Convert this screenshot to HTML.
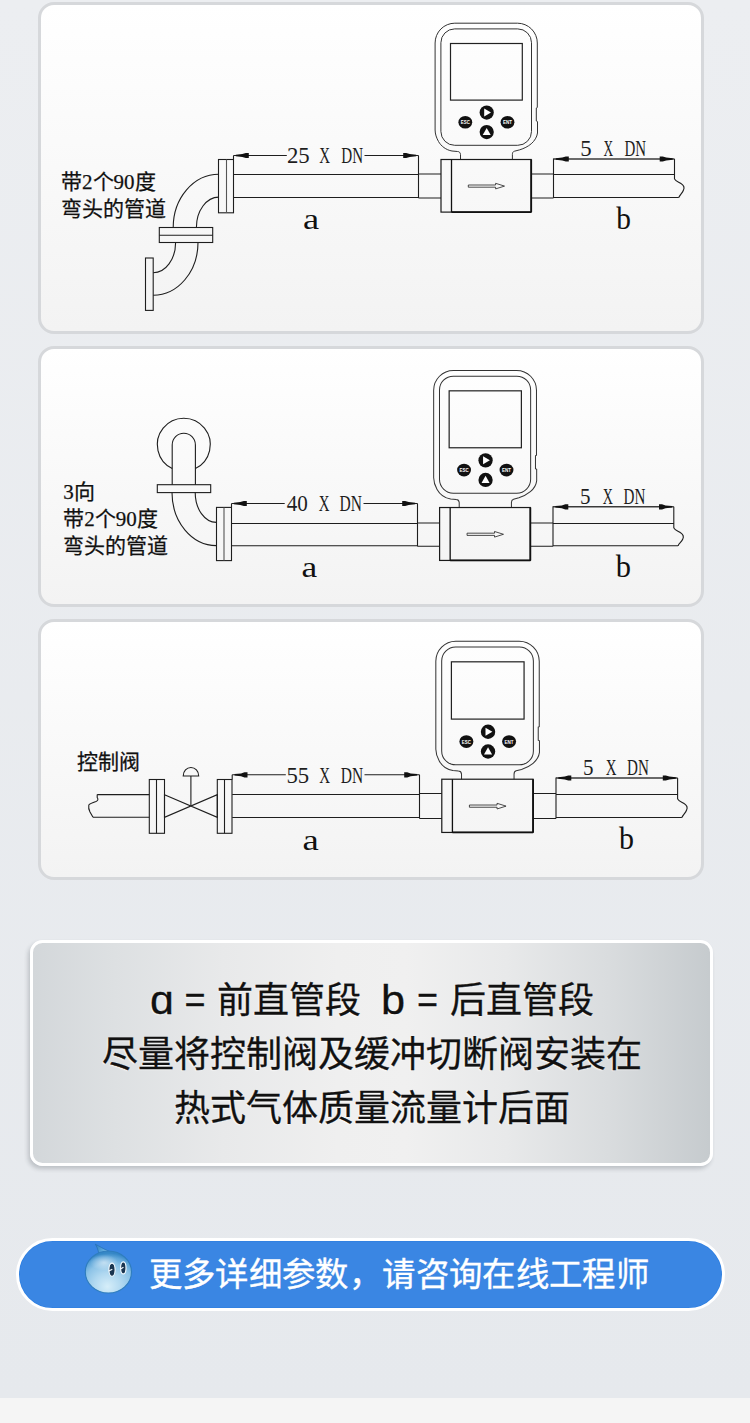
<!DOCTYPE html>
<html lang="zh-CN">
<head>
<meta charset="utf-8">
<style>
*{margin:0;padding:0;box-sizing:border-box;}
html,body{width:750px;height:1423px;overflow:hidden;}
body{position:relative;background:linear-gradient(#eceef1,#e6e9ed 1398px);font-family:"Liberation Sans",sans-serif;}
.card{position:absolute;left:38px;width:666px;border:3px solid #d6d8db;border-radius:16px;background:linear-gradient(#ffffff,#f3f3f3);}
#c1{top:2px;height:332px;}
#c2{top:346px;height:261px;}
#c3{top:619px;height:261px;}
.info{position:absolute;left:30px;top:940px;width:683px;height:226px;border:3px solid #fff;border-radius:12.5px;
 background:linear-gradient(90deg,#d3d7da 0%,#dde0e2 12%,#e8e9ea 28%,#efefef 45%,#f0f0f0 55%,#e8e9ea 70%,#d9dcde 85%,#c6cbce 100%);
 box-shadow:-2px 3px 4px rgba(40,50,60,0.22);}
.info p{position:absolute;left:0;width:100%;text-align:center;font-size:36px;color:#111;-webkit-text-stroke:0.3px #111;line-height:40px;white-space:nowrap;
 text-shadow:-1px 1px 1.5px rgba(255,255,255,0.75);}
.pc{position:absolute;line-height:40px;white-space:nowrap;color:#111;-webkit-text-stroke:0.3px #111;text-shadow:-1px 1px 1.5px rgba(255,255,255,0.75);}
.btn{position:absolute;left:15.5px;top:1238px;width:709.5px;height:73px;border:3px solid #fff;border-radius:37px;background:#3a86e3;box-shadow:inset 0 0 0 0.6px #2a7de0;}
.btn span{position:absolute;left:130.2px;top:14.3px;font-size:33.4px;letter-spacing:0.36px;color:#fff;-webkit-text-stroke:0.35px #fff;white-space:nowrap;line-height:40px;}
.foot{position:absolute;left:0;top:1398px;width:750px;height:25px;background:#f5f5f5;}
svg{position:absolute;left:0;top:0;}
.lbl{font-family:"Liberation Serif",serif;font-size:21px;fill:#111;stroke:#111;stroke-width:0.25px;}
.ab{font-family:"Liberation Serif",serif;font-size:30px;fill:#111;}
.dn{font-family:"Liberation Serif",serif;font-size:23px;fill:#1e1e1e;}
</style>
</head>
<body>
<div class="card" id="c1"></div>
<div class="card" id="c2"></div>
<div class="card" id="c3"></div>
<svg width="750" height="900" viewBox="0 0 750 900">
<defs>
 <g id="meter" fill="none" stroke="#333" stroke-width="1.0">
  <path d="M460.5 159.5 V154.5 C460.3 152.5 459.2 151.5 457.5 151.5 L452 151 C446 150 441 146 438.5 141.5 C436.5 138 435.1 134 435.1 130 V43 A19.7 19.8 0 0 1 454.8 23.2 H517.5 A19.8 19.8 0 0 1 537.3 43 V107.5 L536.3 108 V121 L537.5 121.6 V133 C537 137 534.5 141 531.2 143.8 C528 146.5 524 148.5 519.8 149.8 L514.5 151.2 C513 151.6 512.4 152.6 512.4 154.5 V159.5"/>
  <rect x="440.9" y="28.9" width="90.6" height="116.4" rx="13.8"/>
  <rect x="450.5" y="43.5" width="71.8" height="56.6" stroke="#222" stroke-width="1.2"/>
  <rect x="441" y="159.5" width="90.2" height="52.6" stroke="#1a1a1a" stroke-width="1.2"/>
  <line x1="451.5" y1="159.5" x2="451.5" y2="212.1" stroke="#111" stroke-width="1.3"/>
  <line x1="451.5" y1="212.1" x2="531.2" y2="212.1" stroke="#111" stroke-width="1.8"/>
  <line x1="531.2" y1="159.5" x2="531.2" y2="212.1" stroke="#111" stroke-width="1.8"/>
  <circle cx="486.7" cy="112.6" r="7.1" fill="#111" stroke="none"/>
  <path d="M484.2 108.6 L491 112.6 L484.2 116.6Z" fill="#fff" stroke="none"/>
  <circle cx="486.7" cy="132.1" r="7.1" fill="#111" stroke="none"/>
  <path d="M486.7 128 L490.7 135 L482.7 135Z" fill="#fff" stroke="none"/>
  <ellipse cx="465.3" cy="122.3" rx="6.9" ry="6.3" fill="#111" stroke="none"/>
  <ellipse cx="507.5" cy="122.3" rx="6.9" ry="6.3" fill="#111" stroke="none"/>
  <text x="465.3" y="124.4" font-size="6" fill="#fff" stroke="none" text-anchor="middle" font-family="Liberation Sans" font-weight="bold" textLength="9" lengthAdjust="spacingAndGlyphs">ESC</text>
  <text x="507.5" y="124.4" font-size="6" fill="#fff" stroke="none" text-anchor="middle" font-family="Liberation Sans" font-weight="bold" textLength="9" lengthAdjust="spacingAndGlyphs">ENT</text>
  <path d="M468.3 185 L495.6 185 L495.6 183.3 L504.5 186.1 L495.6 188.9 L495.6 187.2 L468.3 187.2Z" stroke="#222" stroke-width="0.8"/>
 </g>
</defs>
<text class="dn" x="286.9" y="162.6" textLength="22.8" lengthAdjust="spacingAndGlyphs">25</text>
<text class="dn" x="319.3" y="162.6" textLength="10.8" lengthAdjust="spacingAndGlyphs">X</text>
<text class="dn" x="341.3" y="162.6" textLength="21.8" lengthAdjust="spacingAndGlyphs">DN</text>
<text class="dn" x="580.3" y="155.5" textLength="11.4" lengthAdjust="spacingAndGlyphs">5</text>
<text class="dn" x="603.4" y="155.5" textLength="9.7" lengthAdjust="spacingAndGlyphs">X</text>
<text class="dn" x="624.4" y="155.5" textLength="21.6" lengthAdjust="spacingAndGlyphs">DN</text>
<text class="dn" x="286.8" y="511.0" textLength="21.1" lengthAdjust="spacingAndGlyphs">40</text>
<text class="dn" x="318.7" y="511.0" textLength="10.8" lengthAdjust="spacingAndGlyphs">X</text>
<text class="dn" x="339.5" y="511.0" textLength="22.4" lengthAdjust="spacingAndGlyphs">DN</text>
<text class="dn" x="580.1" y="504.0" textLength="10.5" lengthAdjust="spacingAndGlyphs">5</text>
<text class="dn" x="602.7" y="504.0" textLength="10.2" lengthAdjust="spacingAndGlyphs">X</text>
<text class="dn" x="623.5" y="504.0" textLength="21.8" lengthAdjust="spacingAndGlyphs">DN</text>
<text class="dn" x="286.4" y="782.6" textLength="22.7" lengthAdjust="spacingAndGlyphs">55</text>
<text class="dn" x="319.3" y="782.6" textLength="10.8" lengthAdjust="spacingAndGlyphs">X</text>
<text class="dn" x="340.7" y="782.6" textLength="22.4" lengthAdjust="spacingAndGlyphs">DN</text>
<text class="dn" x="583.1" y="775.2" textLength="10.5" lengthAdjust="spacingAndGlyphs">5</text>
<text class="dn" x="605.7" y="775.2" textLength="10.8" lengthAdjust="spacingAndGlyphs">X</text>
<text class="dn" x="627.1" y="775.2" textLength="21.8" lengthAdjust="spacingAndGlyphs">DN</text>
<text class="ab" transform="translate(303.0 229.0) scale(1.239 1)" style="font-size:29.4px">a</text>
<text class="ab" transform="translate(616.2 229.3) scale(0.930 1)" style="font-size:31.6px">b</text>
<text class="ab" transform="translate(301.6 577.2) scale(1.205 1)" style="font-size:29.4px">a</text>
<text class="ab" transform="translate(615.7 577.3) scale(0.964 1)" style="font-size:31.6px">b</text>
<text class="ab" transform="translate(302.6 849.6) scale(1.231 1)" style="font-size:29.8px">a</text>
<text class="ab" transform="translate(619.0 849.3) scale(0.963 1)" style="font-size:31.1px">b</text>
<g fill="none" stroke="#1e1e1e" stroke-width="1.1">
 <rect x="145.5" y="258" width="7.7" height="52.4"/>
 <path d="M198 242.5 A44.8 52.7 0 0 1 153.2 295.2"/>
 <path d="M175.6 242.5 A22.4 30.3 0 0 1 153.2 272.8"/>
 <rect x="159.3" y="227.5" width="53.4" height="15"/>
 <line x1="159.3" y1="235.2" x2="212.7" y2="235.2"/>
 <path d="M173.2 227.5 A45.6 53.3 0 0 1 218.8 174.2"/>
 <path d="M196.4 227.5 A22.4 30.4 0 0 1 218.8 197.1"/>
 <rect x="218.5" y="159.5" width="15" height="53.3"/>
 <line x1="226.5" y1="159.5" x2="226.5" y2="212.8" stroke="#555"/>
<path d="M233.5 174.5 H418.5 M233.5 197.5 H418.5 M418.5 174 H441 M418.5 198 H441"/>
 <path d="M418.5 155.5 V198 M233.5 155.5 V159.5"/>
 <path d="M233.5 155.5 H286.8 M364.5 155.5 H418.5"/>
 <path d="M531.2 174 H553.5 M531.2 198 H553.5 M553.5 158.5 V198"/>
 <path d="M553.5 174.5 H674.5 M553.5 197.5 H678.8 M674.5 159 V179.0"/>
 <path d="M553.5 159 H674.5" stroke="#3a3a3a" stroke-width="1.5"/>
 <path d="M674.5 179.0 C676.0 181.5 679.0 182.0 681.0 183.5 C684.0 185.5 684.5 188.0 683.5 190.0 C682.5 193.0 679.6 195.0 678.8 197.5"/>
</g>
<g fill="#111"><path d="M248.8 152.9 L245.8 152.9 L242.3 154.1 L235.8 154.8 L235.8 156.2 L242.3 156.9 L245.8 158.1 L248.8 158.1Z"/>
<path d="M403.2 152.9 L406.2 152.9 L409.7 154.1 L416.2 154.8 L416.2 156.2 L409.7 156.9 L406.2 158.1 L403.2 158.1Z"/>
<path d="M568.8 156.4 L565.8 156.4 L562.3 157.6 L555.8 158.3 L555.8 159.7 L562.3 160.4 L565.8 161.6 L568.8 161.6Z"/>
<path d="M659.7 156.4 L662.7 156.4 L666.2 157.6 L672.7 158.3 L672.7 159.7 L666.2 160.4 L662.7 161.6 L659.7 161.6Z"/></g>
<use href="#meter" transform="translate(0 0)"/>
<text class="lbl" x="61" y="189">带2个90度</text>
<text class="lbl" x="61" y="216">弯头的管道</text>
<g fill="none" stroke="#1e1e1e" stroke-width="1.1">
 <path d="M172.2 468.5 A26.45 26.45 0 1 1 195.4 468.5"/>
 <path d="M172.2 484.7 L172.2 445 A11.6 11.7 0 0 1 195.4 445 L195.4 484.7"/>
 <rect x="157.3" y="484.7" width="53.4" height="7.9"/>
 <path d="M172 492.6 A44.4 53 0 0 0 216.4 545.6"/>
 <path d="M195.2 492.6 A21.2 29.8 0 0 0 216.4 522.4"/>
 <rect x="216.5" y="507.4" width="15" height="53.2"/>
 <line x1="224" y1="507.4" x2="224" y2="560.6" stroke="#555"/>
<path d="M231.5 523.5 H417.5 M231.5 545.8 H417.5 M417.5 523 H439.8 M417.5 546.2 H439.8"/>
 <path d="M417.5 503.5 V546.2 M231.5 503.5 V507.4"/>
 <path d="M231.5 503.5 H284.7 M363.5 503.5 H417.5"/>
 <path d="M530 523 H553 M530 546.2 H553 M553 506.3 V546.2"/>
 <path d="M553 523.5 H673.8 M553 545.8 H678.1 M673.8 506.8 V528.0"/>
 <path d="M553 506.8 H673.8" stroke="#3a3a3a" stroke-width="1.5"/>
 <path d="M673.8 528.0 C675.3 530.5 678.3 531.0 680.3 532.5 C683.3 534.5 683.8 537.0 682.8 539.0 C681.8 542.0 678.9 543.3 678.1 545.8"/>
</g>
<g fill="#111"><path d="M246.8 500.9 L243.8 500.9 L240.3 502.1 L233.8 502.8 L233.8 504.2 L240.3 504.9 L243.8 506.1 L246.8 506.1Z"/>
<path d="M402.2 500.9 L405.2 500.9 L408.7 502.1 L415.2 502.8 L415.2 504.2 L408.7 504.9 L405.2 506.1 L402.2 506.1Z"/>
<path d="M568.3 504.2 L565.3 504.2 L561.8 505.4 L555.3 506.1 L555.3 507.5 L561.8 508.2 L565.3 509.4 L568.3 509.4Z"/>
<path d="M659.0 504.2 L662.0 504.2 L665.5 505.4 L672.0 506.1 L672.0 507.5 L665.5 508.2 L662.0 509.4 L659.0 509.4Z"/></g>
<use href="#meter" transform="translate(-4.05 347.07) scale(1.006)"/>
<text class="lbl" x="63.3" y="499">3向</text>
<text class="lbl" x="63.3" y="526">带2个90度</text>
<text class="lbl" x="63.3" y="553">弯头的管道</text>
<g fill="none" stroke="#1e1e1e" stroke-width="1.1">
 <path d="M97.2 794.6 H149.3 M93 817.3 H149.3"/>
 <path d="M97.2 794.6 V797.5 C98.5 799.5 98 800.5 96 801.5 C93 802.5 90 803.5 88.8 805 C88.2 808 89 810 90 812 L93 817.3"/>
 <rect x="149.3" y="779.5" width="15.2" height="53.8"/>
 <line x1="156.5" y1="779.5" x2="156.5" y2="833.3"/>
 <path d="M164.5 794.7 L217.3 817.3 L217.3 794.7 L164.5 817.3Z"/>
 <path d="M190.9 806 V776"/>
 <path d="M183.2 776 A7.75 8.5 0 0 1 198.7 776 Z"/>
 <rect x="217.3" y="779.5" width="14.7" height="53.8"/>
 <line x1="224.5" y1="779.5" x2="224.5" y2="833.3"/>
<path d="M232.2 794.5 H419.5 M232.2 817.5 H419.5 M419.5 793.5 H441.8 M419.5 818.5 H441.8"/>
 <path d="M419.5 774.8 V818.5 M232.2 774.8 V779.5"/>
 <path d="M232.2 774.8 H285.8 M364.5 774.8 H419.5"/>
 <path d="M533 793.5 H556 M533 818.5 H556 M556 777.5 V818.5"/>
 <path d="M556 794.5 H677.6 M556 817.5 H681.9 M677.6 778 V799.0"/>
 <path d="M556 778 H677.6" stroke="#3a3a3a" stroke-width="1.5"/>
 <path d="M677.6 799.0 C679.1 801.5 682.1 802.0 684.1 803.5 C687.1 805.5 687.6 808.0 686.6 810.0 C685.6 813.0 682.7 815.0 681.9 817.5"/>
</g>
<g fill="#111"><path d="M247.5 772.2 L244.5 772.2 L241.0 773.4 L234.5 774.1 L234.5 775.5 L241.0 776.2 L244.5 777.4 L247.5 777.4Z"/>
<path d="M404.2 772.2 L407.2 772.2 L410.7 773.4 L417.2 774.1 L417.2 775.5 L410.7 776.2 L407.2 777.4 L404.2 777.4Z"/>
<path d="M571.3 775.4 L568.3 775.4 L564.8 776.6 L558.3 777.3 L558.3 778.7 L564.8 779.4 L568.3 780.6 L571.3 780.6Z"/>
<path d="M662.8 775.4 L665.8 775.4 L669.3 776.6 L675.8 777.3 L675.8 778.7 L669.3 779.4 L665.8 780.6 L662.8 780.6Z"/></g>
<use href="#meter" transform="translate(-4.5 617.8) scale(1.012)"/>
<text class="lbl" x="76.5" y="769">控制阀</text>
</svg>

<div class="info">
 <span class="pc" style="left:116.5px;top:36.5px;font-size:40px;transform:scaleX(1.07);transform-origin:0 0;">ɑ</span><span class="pc" style="left:151.6px;top:36.7px;font-size:36px;">=</span><span class="pc" style="left:183.9px;top:37.5px;font-size:36px;">前直管段</span><span class="pc" style="left:348.2px;top:36.5px;font-size:40px;transform:scaleX(1.08);transform-origin:0 0;">b</span><span class="pc" style="left:383.9px;top:37.0px;font-size:36px;">=</span><span class="pc" style="left:417.2px;top:37.5px;font-size:36px;">后直管段</span>
 <p style="top:92px">尽量将控制阀及缓冲切断阀安装在</p>
 <p style="top:146px">热式气体质量流量计后面</p>
</div>
<div class="btn"><span>更多详细参数，请咨询在线工程师</span></div>
<div class="foot"></div>
<svg style="left:80px;top:1238px" width="56" height="60" viewBox="80 1238 56 60">
<defs>
 <radialGradient id="qb" cx="0.5" cy="0.8" r="0.75" fx="0.48" fy="0.85">
  <stop offset="0" stop-color="#d6eef9"/>
  <stop offset="0.4" stop-color="#b0d8f0"/>
  <stop offset="0.7" stop-color="#8cc3e7"/>
  <stop offset="0.88" stop-color="#5fa6d9"/>
  <stop offset="1" stop-color="#3587c6"/>
 </radialGradient>
 <linearGradient id="qt" x1="0" y1="0" x2="1" y2="0.6">
  <stop offset="0" stop-color="#2a7cc0"/>
  <stop offset="0.6" stop-color="#5aa6da"/>
  <stop offset="1" stop-color="#8cc4e8"/>
 </linearGradient>
 <radialGradient id="qh" cx="0.5" cy="0.5" r="0.5">
  <stop offset="0" stop-color="#ffffff" stop-opacity="0.5"/>
  <stop offset="1" stop-color="#ffffff" stop-opacity="0"/>
 </radialGradient>
</defs>
<path d="M95.3 1244.2 C99.5 1246.2 103.5 1249 108.5 1251 L99.5 1258 C99 1253 97.8 1248 95.3 1244.2Z" fill="url(#qt)" stroke="#2470b2" stroke-width="0.7"/>
<ellipse cx="108.4" cy="1272" rx="23.1" ry="21" fill="url(#qb)" stroke="#2f7dbd" stroke-width="1.1"/>
<ellipse cx="104" cy="1262.5" rx="14" ry="8" fill="url(#qh)"/>
<ellipse cx="112" cy="1269.7" rx="3.1" ry="6.6" fill="#1a3550" stroke="#f4fbff" stroke-width="1.1"/>
<ellipse cx="123.3" cy="1267.9" rx="2.7" ry="6.0" fill="#1a3550" stroke="#f4fbff" stroke-width="1.1"/>
<path d="M108.8 1271 L112.3 1269.2" stroke="#f4fbff" stroke-width="1.2"/>
<path d="M120.5 1269 L123.5 1267.2" stroke="#f4fbff" stroke-width="1.2"/>
</svg>

</body>
</html>
